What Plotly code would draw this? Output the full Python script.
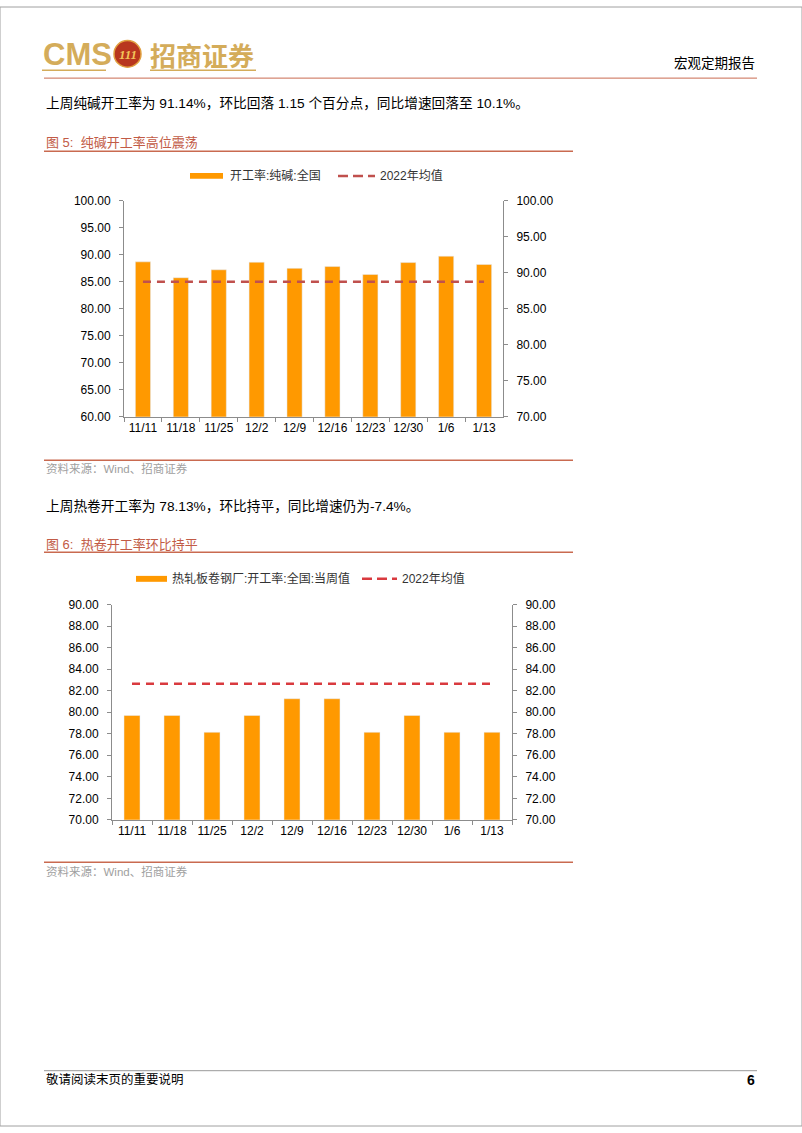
import plotly.graph_objects as go

# ---------------- data ----------------
dates = ["11/11", "11/18", "11/25", "12/2", "12/9", "12/16", "12/23", "12/30", "1/6", "1/13"]
soda_rate = [91.50, 89.30, 90.40, 91.45, 90.60, 90.85, 89.75, 91.40, 92.29, 91.14]
soda_avg_2022 = 85.0
hrc_rate = [79.69, 79.69, 78.13, 79.69, 81.25, 81.25, 78.13, 79.69, 78.13, 78.13]
hrc_avg_2022 = 82.65

soda_left_ticks = [60, 65, 70, 75, 80, 85, 90, 95, 100]
soda_right_ticks = [70, 75, 80, 85, 90, 95, 100]
hrc_ticks = [70, 72, 74, 76, 78, 80, 82, 84, 86, 88, 90]

W, H = 802, 1133
BAR = "#FF9900"
RED1 = "#C0504D"
RED2 = "#D93A3F"
TITLE_RED = "#C25B46"
LINE_RED = "#C96A50"
GOLD = "#D4AC5A"
AX = "#8C8C8C"
FONT = "Liberation Sans, Arial, Noto Sans CJK SC"
CJK = "Liberation Sans, Noto Sans CJK SC"


def fx(x):
    return x / W


def fy(y):
    return 1 - y / H


fig = go.Figure()

# chart 1: bars on base axis (drawn on right side), average line on overlay axis (left side)
fig.add_trace(go.Bar(x=dates, y=soda_rate, marker_color=BAR, name="开工率:纯碱:全国",
                     xaxis="x", yaxis="y", showlegend=False))
fig.add_trace(go.Scatter(x=dates, y=[soda_avg_2022] * len(dates), mode="lines",
                         line=dict(color=RED1, width=2.5, dash="8px,6px"),
                         name="2022年均值", xaxis="x", yaxis="y2", showlegend=False))
# chart 2
fig.add_trace(go.Bar(x=dates, y=hrc_rate, marker_color=BAR, name="热轧板卷钢厂:开工率:全国:当周值",
                     xaxis="x2", yaxis="y3", showlegend=False))
fig.add_trace(go.Scatter(x=dates, y=[hrc_avg_2022] * len(dates), mode="lines",
                         line=dict(color=RED2, width=2.5, dash="8px,6px"),
                         name="2022年均值", xaxis="x2", yaxis="y4", showlegend=False))

tickfont = dict(family=FONT, size=12, color="#000000")
common_x = dict(type="category", tickson="boundaries", ticks="outside", ticklen=4,
                tickcolor=AX, showline=True, linecolor=AX, linewidth=1, showgrid=False,
                tickfont=tickfont, range=[-0.5, len(dates) - 0.5], fixedrange=True,
                tickangle=0)
common_y = dict(ticks="outside", ticklen=4, tickcolor=AX, showline=True, linecolor=AX,
                linewidth=1, showgrid=False, zeroline=False, tickfont=tickfont,
                tickformat=".2f", fixedrange=True, ticklabelstandoff=6)

fig.update_layout(
    width=W, height=H, margin=dict(l=0, r=0, t=0, b=0), autosize=False,
    paper_bgcolor="white", plot_bgcolor="white", bargap=0.6,
    xaxis=dict(domain=[fx(124), fx(503)], anchor="y", **common_x),
    yaxis=dict(domain=[fy(415), fy(196)], anchor="x", side="right", range=[70, 100],
               tickvals=soda_right_ticks, **common_y),
    yaxis2=dict(overlaying="y", side="left", anchor="x", range=[60, 100],
                tickvals=soda_left_ticks, **common_y),
    xaxis2=dict(domain=[fx(112), fx(512)], anchor="y3", **common_x),
    yaxis3=dict(domain=[fy(823), fy(605)], anchor="x2", side="right", range=[70, 90],
                tickvals=hrc_ticks, **common_y),
    yaxis4=dict(overlaying="y3", side="left", anchor="x2", range=[70, 90],
                tickvals=hrc_ticks, **common_y),
    showlegend=False,
)

shapes = []
annos = []


def hline(x0, x1, y, color, width=1, dash=None):
    shapes.append(dict(type="line", xref="paper", yref="paper", x0=fx(x0), x1=fx(x1),
                       y0=fy(y), y1=fy(y), line=dict(color=color, width=width, dash=dash)))


def rect(x0, x1, y0, y1, color):
    shapes.append(dict(type="rect", xref="paper", yref="paper", x0=fx(x0), x1=fx(x1),
                       y0=fy(y1), y1=fy(y0), fillcolor=color, line=dict(width=0)))


def text(x, y, s, size, color="#000000", anchor="left", family=CJK):
    annos.append(dict(xref="paper", yref="paper", x=fx(x), y=fy(y), text=s, showarrow=False,
                      xanchor=anchor, yanchor="middle",
                      font=dict(size=size, color=color, family=family)))


# page border
shapes.append(dict(type="rect", xref="paper", yref="paper", x0=0, x1=1, y0=0, y1=1,
                   line=dict(color="#A0A0A0", width=1)))

# header
text(41, 48, "<b>CMS</b>", 31, GOLD, family="Liberation Sans Narrow, Liberation Sans")
shapes.append(dict(type="circle", xref="paper", yref="paper", x0=fx(114), x1=fx(141),
                   y0=fy(61), y1=fy(34), fillcolor="#B8361E", line=dict(color="#E0A040", width=1.5)))
text(127.5, 48, "<b><i>111</i></b>", 13, "#F2C45A", anchor="center", family="Liberation Serif")
text(148, 48, "<b>招商证券</b>", 26, GOLD, family="Noto Sans CJK SC")
hline(42, 106, 64, GOLD, 1.5)
hline(150, 256, 64, GOLD, 1.5)
text(757, 57, "宏观定期报告", 13.5, "#000000", anchor="right")
hline(44, 757, 72, LINE_RED, 1)

# section 1
text(44, 97, "上周纯碱开工率为 91.14%，环比回落 1.15 个百分点，同比增速回落至 10.1%。", 13.7)
text(44, 137, "图 5:  纯碱开工率高位震荡", 13, TITLE_RED)
hline(44, 573, 146, LINE_RED, 1.5)
rect(190, 223, 168, 174, BAR)
text(228, 171, "开工率:纯碱:全国", 12, "#333333")
hline(338, 375, 171, RED1, 2.5, "10px,5px")
text(378, 171, "2022年均值", 12, "#333333")
hline(44, 573, 459, LINE_RED, 1.5)
text(44, 467, "资料来源：Wind、招商证券", 11.5, "#A0A0A0")

# section 2
text(44, 505, "上周热卷开工率为 78.13%，环比持平，同比增速仍为-7.4%。", 13.7)
text(44, 544, "图 6:  热卷开工率环比持平", 13, TITLE_RED)
hline(44, 573, 552, LINE_RED, 1.5)
rect(136, 167, 576, 582, BAR)
text(170, 579, "热轧板卷钢厂:开工率:全国:当周值", 12, "#333333")
hline(362, 397, 579, RED2, 2.5, "10px,5px")
text(400, 579, "2022年均值", 12, "#333333")
hline(44, 573, 866, LINE_RED, 1.5)
text(44, 875, "资料来源：Wind、招商证券", 11.5, "#A0A0A0")

# footer
hline(44, 757, 1077, "#999999", 1)
text(44, 1086, "敬请阅读末页的重要说明", 12.5, "#000000")
text(757, 1086, "<b>6</b>", 14, "#000000", anchor="right", family="Liberation Sans")

fig.update_layout(shapes=shapes, annotations=annos)

post = (
    "document.documentElement.style.margin='0px';"
    "document.body.style.margin='0px';"
    "document.body.style.padding='0px';"
    "document.documentElement.style.overflow='hidden';"
    "document.body.style.overflow='hidden';"
    "var d=document.getElementById('{plot_id}');"
    "d.style.position='fixed';d.style.left='0px';d.style.top='0px';"
)
fig.write_html("out.html", config={"displayModeBar": False}, post_script=post)
